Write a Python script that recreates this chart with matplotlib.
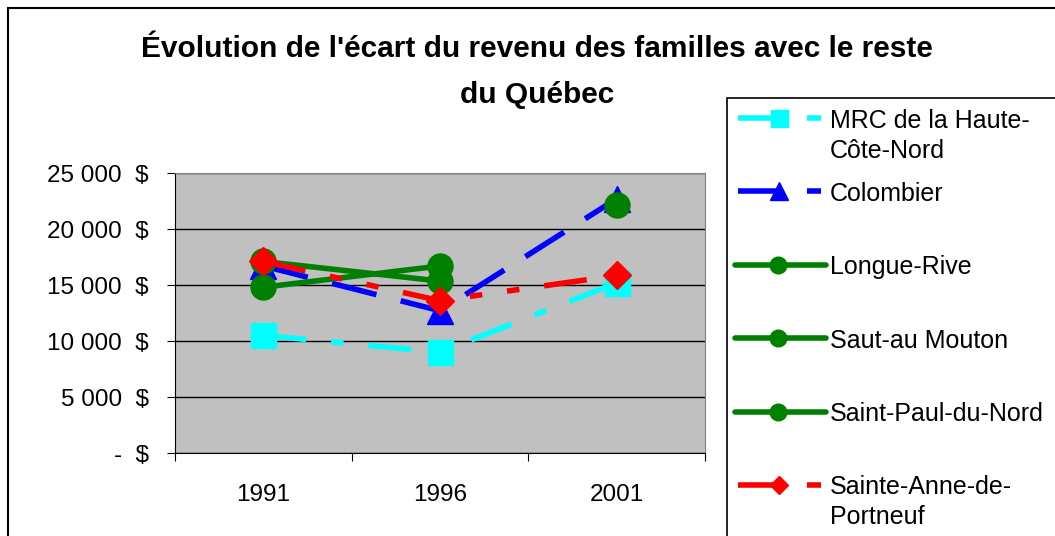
import numpy as np
import matplotlib
matplotlib.use("Agg")
import matplotlib.pyplot as plt
from matplotlib.patches import Rectangle
from matplotlib.lines import Line2D
from matplotlib.ticker import FuncFormatter, FixedLocator

# data (écart du revenu, $)
years = ["1991", "1996", "2001"]
series_names = ["MRC de la Haute-\nCôte-Nord", "Colombier", "Longue-Rive",
                "Saut-au Mouton", "Saint-Paul-du-Nord", "Sainte-Anne-de-\nPortneuf"]
mrc = [10500, 9000, 15200]
colombier = [16700, 12700, 22700]
longue_rive = [17100, 15350, np.nan]
saut_au_mouton = [14800, 16700, np.nan]
saint_paul = [np.nan, np.nan, 22100]
sainte_anne = [17100, 13600, 15850]

plt.rcParams['font.family'] = ['Liberation Sans', 'DejaVu Sans']
plt.rcParams['lines.scale_dashes'] = False

W, H = 1055, 536
fig = plt.figure(figsize=(W / 100, H / 100), dpi=100)
ax = fig.add_axes([175 / W, 1 - 453 / H, 530 / W, 280 / H])
ax.set_facecolor('#C0C0C0')

x = np.arange(len(years))
lw = 4

styles = [
    dict(color='cyan', ls=(0, (31, 18, 9, 18)), marker='s', ms=18),
    dict(color='blue', ls=(0, (33, 18)), marker='^', ms=19),
    dict(color='green', ls='-', marker='o', ms=18),
    dict(color='green', ls='-', marker='o', ms=18),
    dict(color='green', ls='-', marker='o', ms=18),
    dict(color='red', ls=(0, (31, 18, 9, 18, 9, 18)), marker='D', ms=14),
]
values = [mrc, colombier, longue_rive, saut_au_mouton, saint_paul, sainte_anne]

for vals, st, name in zip(values, styles, series_names):
    ax.plot(x, vals, lw=lw, mec=st['color'], label=name, **st)

ax.set_ylim(0, 25000)
ax.set_xlim(-0.5, len(years) - 0.5)
ax.set_yticks(np.arange(0, 25001, 5000))
ax.yaxis.set_major_formatter(FuncFormatter(
    lambda v, p: "-  $" if v == 0 else "{:,.0f}".format(v).replace(",", " ") + "  $"))
ax.grid(axis='y', color='black', lw=1)
ax.set_axisbelow(True)

# category boundaries get the tick marks, the labels sit in between
ax.xaxis.set_major_locator(FixedLocator(np.arange(-0.5, len(years), 1.0)))
ax.xaxis.set_major_formatter(plt.NullFormatter())
ax.xaxis.set_minor_locator(FixedLocator(x))
ax.set_xticklabels(years, minor=True)
ax.tick_params(axis='x', which='minor', length=0, pad=22, labelsize=17.5)
ax.tick_params(axis='x', which='major', length=6, direction='out')
ax.tick_params(axis='y', length=6, pad=13, labelsize=17.5)

for side in ['top', 'right']:
    ax.spines[side].set_color('#808080')
for side in ['left', 'bottom']:
    ax.spines[side].set_color('black')

fig.text(0.509, 1 - 72 / H, "Évolution de l'écart du revenu des familles avec le reste\ndu Québec",
         ha='center', va='center', fontsize=21.5, fontweight='bold', linespacing=1.78)

# legend drawn the Excel way: entries on an even step, wrapped labels hang below
fig.patches.append(Rectangle((727 / W, -0.1), 1.0, 1.1 - 98 / H, transform=fig.transFigure,
                             fill=False, edgecolor='black', lw=1.2))
y0, step, line_step = 118, 73.4, 30
for i, (st, name) in enumerate(zip(styles, series_names)):
    yy = 1 - (y0 + i * step) / H
    if st['ls'] == '-':
        fig.add_artist(Line2D([735 / W, 826 / W], [yy, yy], color=st['color'], lw=lw,
                              solid_capstyle='round'))
        fig.add_artist(Line2D([778 / W], [yy], marker='o', ms=12, color=st['color']))
    else:
        fig.add_artist(Line2D([738 / W, 780 / W], [yy, yy], color=st['color'], lw=lw,
                              solid_capstyle='butt'))
        fig.add_artist(Line2D([779 / W], [yy], marker=st['marker'], ms=st['ms'] * 0.68,
                              color=st['color']))
        fig.add_artist(Line2D([807 / W, 821 / W], [yy, yy], color=st['color'], lw=lw,
                              solid_capstyle='butt'))
    for k, part in enumerate(name.split("\n")):
        fig.text(830 / W, yy - k * line_step / H, part, ha='left', va='center_baseline',
                 fontsize=18)

# outer chart border (cut off on the right and bottom in the original)
fig.patches.append(Rectangle((8 / W, -0.1), 1.2, 1.1 - 8 / H, transform=fig.transFigure,
                             fill=False, edgecolor='black', lw=1.5))

fig.savefig("out.png", dpi=100)
